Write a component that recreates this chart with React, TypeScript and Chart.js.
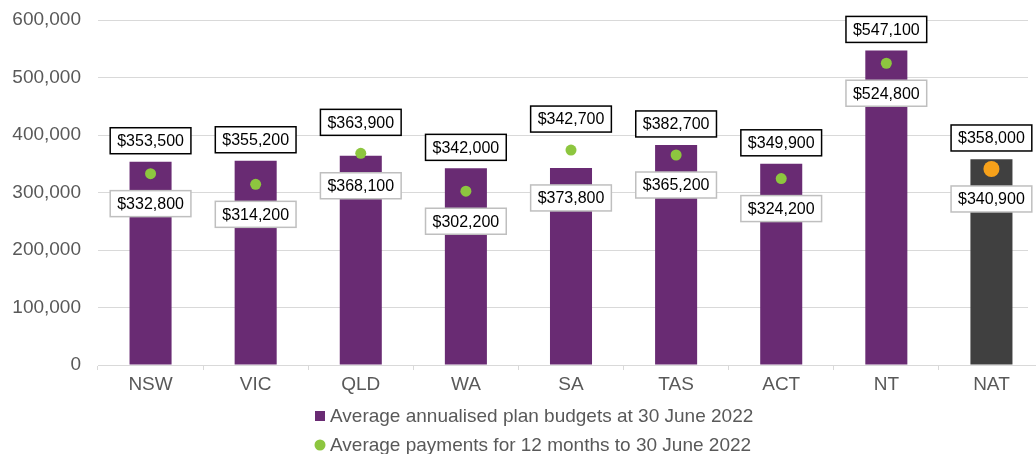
import React, { useEffect, useRef } from 'react';
import { Chart, registerables } from 'chart.js';

Chart.register(...registerables);

const categories = ['NSW', 'VIC', 'QLD', 'WA', 'SA', 'TAS', 'ACT', 'NT', 'NAT'];
const planBudgets = [353500, 355200, 363900, 342000, 342700, 382700, 349900, 547100, 358000];
const payments = [332800, 314200, 368100, 302200, 373800, 365200, 324200, 524800, 340900];
const yMax = 600000;
const yStep = 100000;
const legendLabels = [
  'Average annualised plan budgets at 30 June 2022',
  'Average payments for 12 months to 30 June 2022',
];

const FONT = "'Liberation Sans', Arial, sans-serif";
const PURPLE = '#692b73';
const DARK = '#404040';
const GREEN = '#8dc63f';
const ORANGE = '#f7a11a';
const TEXT = '#595959';
const GRID = '#d9d9d9';

const fmt = (v: number) => v.toLocaleString('en-US');

// The original plot area runs a little past the right edge of the picture.
const extendXPlugin = {
  id: 'extendX',
  afterLayout(chart: any) {
    const x = chart.scales.x;
    x.right = chart.width + 8;
    x.width = x.right - x.left;
    x.configure();
  },
};

const labelPlugin = {
  id: 'boxLabels',
  afterDatasetsDraw(chart: any) {
    const ctx = chart.ctx;
    const lineMeta = chart.getDatasetMeta(0);
    const barMeta = chart.getDatasetMeta(1);
    ctx.save();
    ctx.font = `16px ${FONT}`;
    ctx.textAlign = 'center';
    ctx.textBaseline = 'middle';
    const drawBox = (text: string, cx: number, cy: number, stroke: string) => {
      const w = ctx.measureText(text).width + 14;
      const h = 26;
      ctx.fillStyle = '#ffffff';
      ctx.fillRect(cx - w / 2, cy - h / 2, w, h);
      ctx.strokeStyle = stroke;
      ctx.lineWidth = 1.5;
      ctx.strokeRect(cx - w / 2, cy - h / 2, w, h);
      ctx.fillStyle = '#000000';
      ctx.fillText(text, cx, cy + 1);
    };
    categories.forEach((_, i) => {
      const bar = barMeta.data[i];
      const pt = lineMeta.data[i];
      const barY = bar.y;
      const dotY = pt.y;
      const topLabelY = Math.min(barY, dotY - 10) - 21;
      const lowLabelY = Math.max(barY, dotY) + 30;
      drawBox('$' + fmt(payments[i]), pt.x, lowLabelY, '#bfbfbf');
      drawBox('$' + fmt(planBudgets[i]), bar.x, topLabelY, '#000000');
    });
    ctx.restore();
  },
};

const legendPlugin = {
  id: 'customLegend',
  afterDraw(chart: any) {
    const ctx = chart.ctx;
    const area = chart.chartArea;
    const x0 = area.left + 217;
    const y1 = area.bottom + 51;
    const y2 = area.bottom + 80;
    ctx.save();
    ctx.font = `19px ${FONT}`;
    ctx.textAlign = 'left';
    ctx.textBaseline = 'middle';
    ctx.fillStyle = PURPLE;
    ctx.fillRect(x0, y1 - 5, 10, 10);
    ctx.fillStyle = GREEN;
    ctx.beginPath();
    ctx.arc(x0 + 5, y2, 5.5, 0, Math.PI * 2);
    ctx.fill();
    ctx.fillStyle = TEXT;
    ctx.fillText(legendLabels[0], x0 + 15, y1 + 1);
    ctx.fillText(legendLabels[1], x0 + 15, y2 + 1);
    ctx.restore();
  },
};

export default function App() {
  const ref = useRef<HTMLCanvasElement>(null);

  useEffect(() => {
    if (!ref.current) return;
    const chart = new Chart(ref.current, {
      type: 'bar',
      data: {
        labels: categories,
        datasets: [
          {
            type: 'line',
            label: legendLabels[1],
            data: payments,
            showLine: false,
            order: 0,
            pointRadius: payments.map((_, i) => (i === payments.length - 1 ? 8 : 5.5)),
            pointBackgroundColor: payments.map((_, i) => (i === payments.length - 1 ? ORANGE : GREEN)),
            pointBorderWidth: 0,
            pointBorderColor: 'transparent',
          } as any,
          {
            type: 'bar',
            label: legendLabels[0],
            data: planBudgets,
            order: 1,
            backgroundColor: planBudgets.map((_, i) => (i === planBudgets.length - 1 ? DARK : PURPLE)),
            barPercentage: 0.4,
            categoryPercentage: 1.0,
          },
        ],
      },
      options: {
        animation: false,
        responsive: false,
        maintainAspectRatio: false,
        devicePixelRatio: 1,
        layout: { padding: { top: 20, left: 0, right: 0, bottom: 0 } },
        plugins: {
          legend: { display: false },
          tooltip: { enabled: false },
        },
        scales: {
          x: {
            offset: true,
            grid: {
              display: true,
              drawOnChartArea: false,
              drawTicks: true,
              tickLength: 5,
              color: GRID,
              offset: true,
            },
            border: { display: true, color: GRID, width: 1 },
            ticks: { color: TEXT, font: { size: 19, family: FONT }, padding: 3 },
            afterFit: (scale: any) => {
              scale.height = 89;
              scale.paddingLeft = 0;
              scale.paddingRight = 0;
            },
          },
          y: {
            min: 0,
            max: yMax,
            ticks: {
              stepSize: yStep,
              color: TEXT,
              font: { size: 19, family: FONT },
              padding: 17,
              callback: (v: any) => fmt(Number(v)),
            },
            grid: { color: GRID, drawTicks: false, lineWidth: 1 },
            border: { display: false },
            afterFit: (scale: any) => {
              scale.width = 98;
              scale.paddingTop = 0;
              scale.paddingBottom = 0;
            },
          },
        },
      },
      plugins: [extendXPlugin, labelPlugin, legendPlugin],
    });
    return () => chart.destroy();
  }, []);

  return (
    <div style={{ position: 'fixed', left: 0, top: 0, width: 1036, height: 454, overflow: 'hidden', background: '#fff' }}>
      <canvas ref={ref} width={1036} height={454} style={{ display: 'block', width: 1036, height: 454 }} />
    </div>
  );
}
